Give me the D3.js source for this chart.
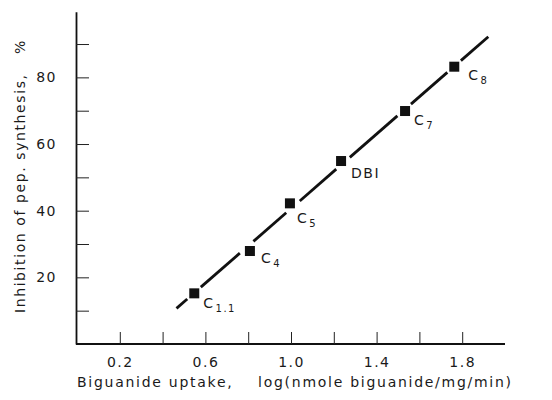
<!DOCTYPE html>
<html>
<head>
<meta charset="utf-8">
<script src="https://cdn.jsdelivr.net/npm/d3@7"></script>
<style>
  html, body { margin: 0; padding: 0; background: #fff; }
  svg { display: block; }
  text { font-family: "DejaVu Sans", sans-serif; fill: #1a1a1a; }
</style>
</head>
<body>
<svg id="chart" width="552" height="400"></svg>
<script>
// ---- data ----
const compounds   = ["C11", "C4", "C5", "DBI", "C7", "C8"];
const labelMain   = ["C", "C", "C", "DBI", "C", "C"];
const labelSub    = ["1.1", "4", "5", "", "7", "8"];
const uptakeLog   = [0.548, 0.808, 0.995, 1.234, 1.533, 1.763];
const inhibition  = [15.2, 27.9, 42.2, 54.9, 69.9, 83.2];
const fitX        = [0.465, 1.922];
const fitY        = [10.7, 92.2];
const xTicks      = [0.2, 0.4, 0.6, 0.8, 1.0, 1.2, 1.4, 1.6, 1.8];
const xTickLabels = ["0.2", "", "0.6", "", "1.0", "", "1.4", "", "1.8"];
const yTicks      = [10, 20, 30, 40, 50, 60, 70, 80, 90];
const yTickLabels = ["", "20", "", "40", "", "60", "", "80", ""];
const xTitle = "Biguanide uptake,    log(nmole biguanide/mg/min)";
const yTitle = "Inhibition of pep. synthesis,";
const yUnit  = "%";

// ---- layout ----
const labelDx = [9, 11, 7, 10, 9, 14];
const labelDy = [15, 12, 20, 17, 14, 13];

const svg = d3.select("#chart");
const x = d3.scaleLinear().domain([0, 2]).range([77, 505]);
const y = d3.scaleLinear().domain([0, 99.7]).range([344, 11.7]);

// axes (ticks inward)
const xAxis = d3.axisBottom(x)
  .tickValues(xTicks)
  .tickFormat((d, i) => xTickLabels[i])
  .tickSizeInner(-12).tickSizeOuter(0).tickPadding(20);
const gx = svg.append("g").attr("transform", `translate(0,${y(0)})`).call(xAxis);
gx.select(".domain").attr("stroke", "#111").attr("stroke-width", 1.8)
  .attr("d", `M${x(0) - 1},0H${x(2)}`);
gx.selectAll(".tick line").attr("stroke", "#222").attr("stroke-width", 1);
gx.selectAll(".tick text").attr("font-size", 14).attr("fill", "#1a1a1a")
  .attr("letter-spacing", 1.5).attr("font-family", "DejaVu Sans").attr("dy", "0.2em");

const yAxis = d3.axisLeft(y)
  .tickValues(yTicks)
  .tickFormat((d, i) => yTickLabels[i])
  .tickSizeInner(-13).tickSizeOuter(0).tickPadding(19);
const gy = svg.append("g").attr("transform", `translate(${x(0) - 1},0)`).call(yAxis);
gy.select(".domain").attr("stroke", "#111").attr("stroke-width", 1.8);
gy.selectAll(".tick line").attr("stroke", "#222").attr("stroke-width", 1);
gy.selectAll(".tick text").attr("font-size", 14).attr("fill", "#1a1a1a")
  .attr("letter-spacing", 1.5).attr("font-family", "DejaVu Sans");

// fitted line, broken around the markers
const p0 = [x(fitX[0]), y(fitY[0])], p1 = [x(fitX[1]), y(fitY[1])];
const L = Math.hypot(p1[0] - p0[0], p1[1] - p0[1]);
const ux = (p1[0] - p0[0]) / L, uy = (p1[1] - p0[1]) / L;
const gap = 9;
const ts = uptakeLog.map((v, i) => (x(v) - p0[0]) * ux + (y(inhibition[i]) - p0[1]) * uy).sort((a, b) => a - b);
const segs = [];
let start = 0;
ts.forEach(t => { segs.push([start, t - gap]); start = t + gap; });
segs.push([start, L]);
svg.append("g").selectAll("line").data(segs).join("line")
  .attr("x1", d => p0[0] + ux * d[0]).attr("y1", d => p0[1] + uy * d[0])
  .attr("x2", d => p0[0] + ux * d[1]).attr("y2", d => p0[1] + uy * d[1])
  .attr("stroke", "#111").attr("stroke-width", 2.8);

// markers
const ms = 10;
svg.append("g").selectAll("rect").data(compounds).join("rect")
  .attr("x", (d, i) => x(uptakeLog[i]) - ms / 2)
  .attr("y", (d, i) => y(inhibition[i]) - ms / 2)
  .attr("width", ms).attr("height", ms).attr("fill", "#111");

// labels
const lab = svg.append("g").selectAll("text").data(compounds).join("text")
  .attr("x", (d, i) => x(uptakeLog[i]) + labelDx[i])
  .attr("y", (d, i) => y(inhibition[i]) + labelDy[i])
  .attr("font-size", 14).attr("letter-spacing", 1.5);
lab.append("tspan").text((d, i) => labelMain[i]);
lab.append("tspan").attr("font-size", 10).attr("dy", 4).attr("dx", 1)
  .text((d, i) => labelSub[i]);

// axis titles
svg.append("text").attr("x", 77).attr("y", 387)
  .attr("font-size", 14).attr("textLength", 434).attr("lengthAdjust", "spacing")
  .attr("xml:space", "preserve").style("white-space", "pre")
  .text(xTitle);
svg.append("text").attr("transform", "translate(25,313) rotate(-90)")
  .attr("font-size", 14).attr("textLength", 238).attr("lengthAdjust", "spacing")
  .text(yTitle);
svg.append("text").attr("transform", "translate(25,54) rotate(-90)")
  .attr("font-size", 14).text(yUnit);
</script>
</body>
</html>
